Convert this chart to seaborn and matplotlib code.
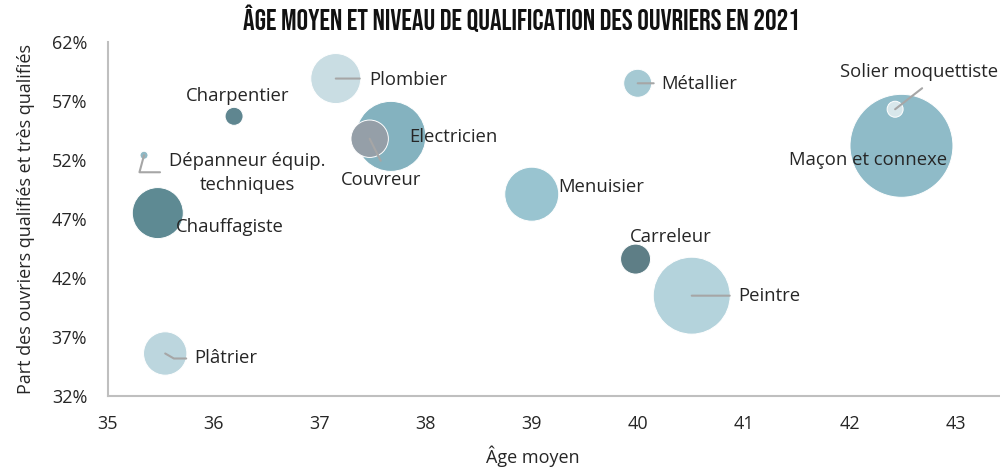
import pandas as pd
import seaborn as sns
import matplotlib.pyplot as plt
from matplotlib.ticker import FuncFormatter

# data
metiers = ['Plombier', 'Charpentier', 'Electricien', 'Couvreur', 'Dépanneur équip.\ntechniques',
           'Chauffagiste', 'Plâtrier', 'Menuisier', 'Métallier', 'Carreleur', 'Peintre',
           'Maçon et connexe', 'Solier moquettiste']
age_moyen = [37.15, 36.19, 37.67, 37.47, 35.34, 35.47, 35.54, 39.00, 40.00, 39.98, 40.51, 42.49, 42.43]
part_qualifies = [58.9, 55.7, 54.0, 53.8, 52.4, 47.5, 35.6, 49.1, 58.5, 43.6, 40.5, 53.2, 56.3]
poids = [625, 81, 1225, 350, 16, 650, 470, 729, 196, 225, 1480, 2650, 64]
couleurs = ['#c9dde3', '#5f8690', '#84b2bf', '#959fa8', '#8fb8c4', '#5e8a93', '#bcd6de',
            '#99c4d0', '#a5c9d3', '#5e7e86', '#b4d3dc', '#8fbbc8', '#d8e7eb']

df = pd.DataFrame({'metier': metiers, 'age': age_moyen, 'part': part_qualifies, 'poids': poids})

sns.set_style('white')
plt.rcParams['font.family'] = ['Open Sans', 'DejaVu Sans']

fig = plt.figure(figsize=(10, 4.69), dpi=100)
ax = fig.add_axes([0.108, 0.1557, 0.892, 0.7548])

palette = dict(zip(metiers, couleurs))
sizes = {m: p * (2 * 0.72) ** 2 for m, p in zip(metiers, poids)}
sns.scatterplot(data=df, x='age', y='part', hue='metier', palette=palette,
                size='metier', sizes=sizes, legend=False, alpha=1,
                edgecolor='white', linewidth=0.7, ax=ax, zorder=3)

ax.set_xlim(35, 43.42)
ax.set_ylim(32, 62)
ax.set_xticks(range(35, 44))
ax.set_yticks(range(32, 63, 5))
ax.yaxis.set_major_formatter(FuncFormatter(lambda v, _: f'{v:.0f}%'))
ax.tick_params(axis='both', length=0, labelsize=13, colors='#262626')
ax.tick_params(axis='x', pad=14)
ax.tick_params(axis='y', pad=15)
for side in ['top', 'right']:
    ax.spines[side].set_visible(False)
for side in ['left', 'bottom']:
    ax.spines[side].set_color('#bfbfbf')
    ax.spines[side].set_linewidth(1.5)

ax.set_xlabel('Âge moyen', fontsize=13, color='#262626')
ax.xaxis.set_label_coords(0.476, -0.14)
ax.set_ylabel('Part des ouvriers qualifiés et très qualifiés', fontsize=13, color='#262626')
ax.yaxis.set_label_coords(-0.082, 0.5)

fig.suptitle('ÂGE MOYEN ET NIVEAU DE QUALIFICATION DES OUVRIERS EN 2021',
             x=0.521, y=0.99, fontsize=20.8, family=['Bebas Neue', 'DejaVu Sans'], color='#111111')

# labels: (dx, dy, ha) offsets in pixels
label_pos = {
    'Plombier': (33, -1, 'left'),
    'Charpentier': (4, 20, 'center'),
    'Electricien': (18, -1, 'left'),
    'Couvreur': (11, -41, 'center'),
    'Dépanneur équip.\ntechniques': (103, -18, 'center'),
    'Chauffagiste': (18, -14, 'left'),
    'Plâtrier': (29, -5, 'left'),
    'Menuisier': (26, 7, 'left'),
    'Métallier': (24, -1, 'left'),
    'Carreleur': (35, 22, 'center'),
    'Peintre': (47, 0, 'left'),
    'Maçon et connexe': (-112, -14, 'left'),
    'Solier moquettiste': (24, 37, 'center'),
}
for m, x, y in zip(metiers, age_moyen, part_qualifies):
    dx, dy, ha = label_pos[m]
    ax.annotate(m, xy=(x, y), xytext=(dx, dy), textcoords='offset pixels',
                ha=ha, va='center', fontsize=13.3, color='#262626', zorder=5,
                linespacing=1.4)

# leader lines: (dx, dy, connection)
leaders = {
    'Plombier': (24, 0, 'arc3'),
    'Couvreur': (11, -22, 'arc3'),
    'Dépanneur équip.\ntechniques': (16, -17, 'angle,angleA=0,angleB=75,rad=0'),
    'Plâtrier': (21, -5, 'angle,angleA=0,angleB=-30,rad=0'),
    'Métallier': (16, 0, 'arc3'),
    'Peintre': (38, 0, 'arc3'),
    'Solier moquettiste': (27, 21, 'arc3'),
}
for m, x, y in zip(metiers, age_moyen, part_qualifies):
    if m in leaders:
        dx, dy, cs = leaders[m]
        ax.annotate('', xy=(x, y), xytext=(dx, dy), textcoords='offset pixels', zorder=4,
                    arrowprops=dict(arrowstyle='-', color='#a6a6a6', lw=1.5,
                                    shrinkA=0, shrinkB=0, connectionstyle=cs))

fig.savefig('out.png', dpi=100)
